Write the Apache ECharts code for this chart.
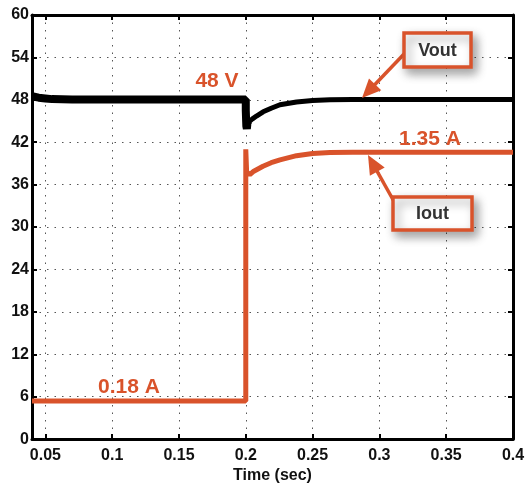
<!DOCTYPE html>
<html>
<head>
<meta charset="utf-8">
<script src="https://cdn.jsdelivr.net/npm/echarts@6/dist/echarts.min.js"></script>
<style>html,body{margin:0;padding:0;background:#fff}#c{width:528px;height:489px}</style>
</head>
<body>
<div id="c"></div>
<script>
// ---- data ----
var xTicks = [0.05, 0.1, 0.15, 0.2, 0.25, 0.3, 0.35, 0.4];
var yTicks = [0, 6, 12, 18, 24, 30, 36, 42, 48, 54, 60];

var voutPreTime = [0.04, 0.045, 0.05, 0.055, 0.07, 0.1, 0.15, 0.2, 0.2, 0.2004, 0.2008, 0.2012, 0.2016];
var voutPre     = [48.5, 48.3, 48.2, 48.1, 48.05, 48.05, 48.05, 48.05, 46.5, 44.3, 43.9, 44.6, 44.4];
var voutPostTime = [0.2016, 0.202, 0.203, 0.205, 0.208, 0.213, 0.219, 0.2256, 0.238, 0.25, 0.263, 0.28, 0.3, 0.4];
var voutPost     = [44.4, 44.5, 45.0, 45.3, 45.7, 46.3, 46.8, 47.3, 47.7, 47.9, 48.0, 48.05, 48.05, 48.05];

var ioutTime = [0.04, 0.1, 0.15, 0.2, 0.2, 0.2006, 0.201, 0.2015, 0.203, 0.206, 0.2129, 0.219, 0.2256, 0.238, 0.25, 0.263, 0.28, 0.4];
var iout     = [5.4, 5.4, 5.4, 5.4, 41.0, 38.0, 37.2, 37.7, 37.4, 37.9, 38.6, 39.1, 39.5, 40.1, 40.4, 40.55, 40.6, 40.6];

var annoLabels = ['48 V', '1.35 A', '0.18 A'];
var boxLabels = ['Vout', 'Iout'];

function pairs(xs, ys) { return xs.map(function (x, i) { return [x, ys[i]]; }); }

var RED = '#D9532B';
var chart = echarts.init(document.getElementById('c'));

var axisFont = { fontFamily: 'Liberation Sans', fontWeight: 'bold', fontSize: 16, color: '#111' };
var gridLine = { show: true, lineStyle: { color: '#555', width: 1, type: [1.5, 6] } };

function xAx(pos, showLabel) {
  return {
    type: 'value', position: pos, min: 0.04, max: 0.4,
    axisLine: { show: true, onZero: false, lineStyle: { color: '#000', width: 3 } },
    axisTick: { show: true, inside: true, length: 5, customValues: xTicks, lineStyle: { color: '#000', width: 2 } },
    axisLabel: Object.assign({ show: showLabel, margin: 8, customValues: xTicks,
      formatter: function (v) { return String(+v.toFixed(2)); } }, axisFont),
    splitLine: showLabel ? gridLine : { show: false },
    name: showLabel ? 'Time (sec)' : '', nameLocation: 'middle', nameGap: 28,
    nameTextStyle: { fontFamily: 'Liberation Sans', fontWeight: 'bold', fontSize: 16, color: '#111' }
  };
}
function yAx(pos, showLabel) {
  return {
    type: 'value', position: pos, min: 0, max: 60, interval: 6,
    axisLine: { show: true, onZero: false, lineStyle: { color: '#000', width: 3 } },
    axisTick: { show: true, inside: true, length: 5, lineStyle: { color: '#000', width: 2 } },
    axisLabel: Object.assign({ show: showLabel, margin: 3 }, axisFont),
    splitLine: showLabel ? gridLine : { show: false }
  };
}

function arrow(x1, y1, x2, y2) {
  var dx = x2 - x1, dy = y2 - y1, L = Math.sqrt(dx * dx + dy * dy);
  var ux = dx / L, uy = dy / L, hl = 19, hw = 8.5;
  var bx = x2 - ux * hl, by = y2 - uy * hl;
  return [
    { type: 'line', shape: { x1: x1, y1: y1, x2: bx + ux * 2, y2: by + uy * 2 }, style: { stroke: RED, lineWidth: 3.5 }, z: 100 },
    { type: 'polygon', shape: { points: [[x2, y2], [bx - uy * hw, by + ux * hw], [bx + uy * hw, by - ux * hw]] }, style: { fill: RED }, z: 100 }
  ];
}
function box(x, y, w, h, txt) {
  return [
    { type: 'rect', shape: { x: x, y: y, width: w, height: h },
      style: { fill: '#fff', stroke: RED, lineWidth: 3.5, shadowBlur: 10, shadowOffsetX: 4, shadowOffsetY: 5, shadowColor: 'rgba(0,0,0,0.35)' }, z: 100 },
    { type: 'text', x: x + w / 2, y: y + h / 2 + 1,
      style: { text: txt, fill: '#333', font: 'bold 18px "Liberation Sans"', align: 'center', verticalAlign: 'middle' }, z: 101 }
  ];
}
function redText(txt, cx, cy) {
  return { type: 'text', x: cx, y: cy, style: { text: txt, fill: RED, font: 'bold 21px "Liberation Sans"', align: 'center', verticalAlign: 'middle' }, z: 90 };
}

var graphics = []
  .concat(arrow(405, 53, 362, 98))
  .concat(arrow(396, 205, 368, 155))
  .concat(box(404, 33, 67, 34, boxLabels[0]))
  .concat(box(393, 197, 79, 33, boxLabels[1]))
  .concat([redText(annoLabels[0], 217, 81), redText(annoLabels[1], 430, 139), redText(annoLabels[2], 129, 387)]);

chart.setOption({
  animation: false,
  backgroundColor: '#fff',
  grid: { left: 32, right: 15, top: 15, bottom: 49 },
  xAxis: [xAx('bottom', true), xAx('top', false)],
  yAxis: [yAx('left', true), yAx('right', false)],
  series: [
    { type: 'line', name: 'Iout', data: pairs(ioutTime, iout), showSymbol: false, symbol: 'none',
      lineStyle: { color: RED, width: 5 }, z: 3 },
    { type: 'line', name: 'Vout', data: pairs(voutPreTime, voutPre), showSymbol: false, symbol: 'none',
      lineStyle: { color: '#000', width: 8 }, z: 4 },
    { type: 'line', name: 'Vout2', data: pairs(voutPostTime, voutPost), showSymbol: false, symbol: 'none',
      lineStyle: { color: '#000', width: 5 }, z: 4 }
  ],
  graphic: graphics
});
</script>
</body>
</html>
